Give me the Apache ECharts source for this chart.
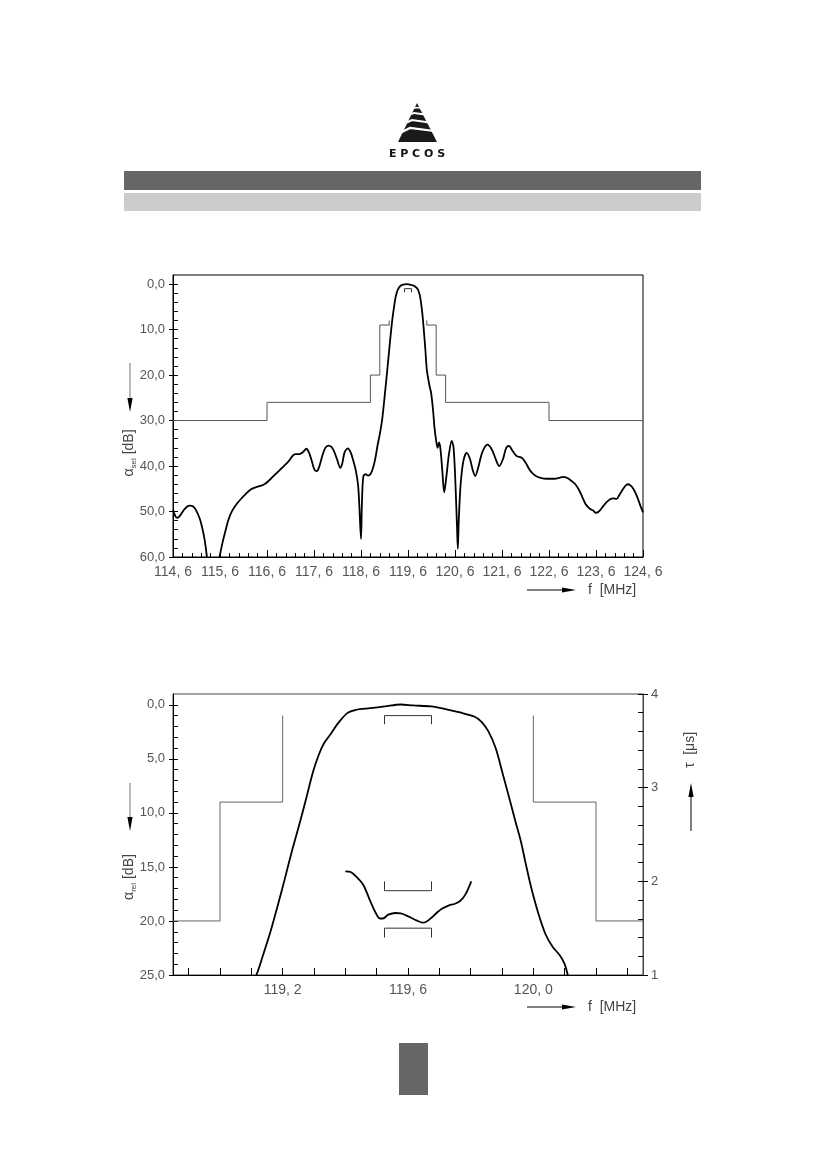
<!DOCTYPE html>
<html><head><meta charset="utf-8">
<script src="https://cdn.jsdelivr.net/npm/echarts@6/dist/echarts.min.js"></script>
<style>html,body{margin:0;padding:0;background:#fff}#c{width:826px;height:1169px}</style>
</head><body><div id="c"></div>
<script>
// ---------- Chart 1: selectivity (alpha_sel, dB) vs f (MHz) ----------
const selLabelsX = [114.6,115.6,116.6,117.6,118.6,119.6,120.6,121.6,122.6,123.6,124.6];
const selLabelsY = [0,10,20,30,40,50,60];
const selCurve = [[114.6,49.6],[114.65,51.0],[114.69,51.4],[114.75,50.9],[114.85,49.4],[114.95,48.7],[115.03,48.9],[115.1,49.9],[115.17,51.6],[115.22,53.5],[115.27,56.0],[115.31,59],[115.35,62.5],[115.42,65],[115.52,65],[115.56,62],[115.59,60],[115.65,57],[115.71,54.5],[115.78,51.8],[115.86,49.8],[115.95,48.4],[116.04,47.3],[116.15,46.1],[116.26,45.1],[116.38,44.6],[116.48,44.3],[116.56,43.9],[116.63,43.3],[116.72,42.4],[116.81,41.5],[116.9,40.6],[117.0,39.6],[117.07,38.8],[117.14,37.8],[117.2,37.4],[117.29,37.4],[117.36,37.0],[117.44,36.2],[117.5,37.2],[117.55,38.8],[117.61,40.8],[117.66,41.1],[117.71,40.2],[117.77,38.0],[117.84,36.0],[117.91,35.5],[117.97,35.8],[118.02,36.6],[118.09,38.5],[118.16,40.4],[118.2,39.5],[118.25,37.0],[118.32,36.1],[118.38,37.0],[118.43,38.6],[118.49,41.0],[118.54,44.4],[118.57,50],[118.6,56.0],[118.62,48],[118.65,42.3],[118.7,41.8],[118.75,42.1],[118.8,41.8],[118.85,40.6],[118.9,38.6],[118.95,35.6],[119.0,33.0],[119.05,29.8],[119.1,25],[119.16,18.8],[119.22,12.3],[119.27,7.5],[119.31,4.5],[119.34,2.7],[119.38,1.3],[119.42,0.6],[119.46,0.25],[119.5,0.1],[119.56,0.0],[119.62,0.05],[119.67,0.2],[119.73,0.4],[119.78,0.8],[119.82,1.4],[119.86,2.9],[119.9,6.0],[119.93,9.3],[119.97,14.5],[120.0,18.8],[120.04,21.4],[120.06,22.5],[120.09,23.8],[120.11,25.4],[120.14,28.5],[120.16,31.2],[120.2,34.5],[120.23,36.0],[120.26,34.8],[120.29,36.2],[120.33,41],[120.37,45.8],[120.42,42],[120.47,37.5],[120.53,34.5],[120.57,36],[120.61,44],[120.645,54],[120.66,58.2],[120.68,52],[120.72,44],[120.78,38.8],[120.85,37.1],[120.92,38.5],[120.98,41],[121.03,42.2],[121.09,40.5],[121.18,37],[121.29,35.3],[121.38,36.3],[121.46,38.3],[121.54,40.0],[121.62,38.5],[121.69,36.0],[121.75,35.6],[121.82,36.6],[121.91,37.8],[122.02,38.2],[122.1,39.2],[122.18,40.7],[122.24,41.5],[122.32,42.2],[122.39,42.5],[122.55,42.8],[122.72,42.8],[122.82,42.6],[122.9,42.4],[123.0,42.7],[123.08,43.3],[123.16,44.0],[123.23,45.1],[123.3,46.6],[123.38,48.4],[123.46,49.3],[123.54,49.8],[123.6,50.3],[123.66,50.0],[123.74,49.0],[123.82,48.0],[123.9,47.3],[123.96,47.1],[124.04,47.2],[124.1,46.3],[124.18,45.0],[124.24,44.2],[124.29,44.0],[124.35,44.4],[124.4,45.1],[124.47,46.6],[124.54,48.6],[124.6,50.2]];
const selMaskLeft = [[114.6,30],[116.6,30],[116.6,26],[118.8,26],[118.8,20],[119.0,20],[119.0,9],[119.2,9],[119.2,8]];
const selMaskRight = [[120.0,8],[120.0,9],[120.2,9],[120.2,20],[120.4,20],[120.4,26],[122.6,26],[122.6,30],[124.6,30]];
const selBracket = [[119.525,1.8],[119.525,1.0],[119.675,1.0],[119.675,1.8]];

// ---------- Chart 2: passband (alpha_rel, dB) and group delay (tau, us) ----------
const relLabelsX = [119.2,119.6,120.0];
const relLabelsY = [0,5,10,15,20,25];
const tauLabels = [1,2,3,4];
const relCurve = [[119.1,25.6],[119.116,25.0],[119.138,23.1],[119.16,21.1],[119.183,18.7],[119.206,16.2],[119.229,13.6],[119.252,11.2],[119.275,8.67],[119.297,6.19],[119.315,4.64],[119.332,3.56],[119.355,2.63],[119.377,1.70],[119.406,0.77],[119.434,0.46],[119.48,0.31],[119.526,0.15],[119.577,-0.03],[119.617,0.06],[119.674,0.15],[119.72,0.40],[119.766,0.71],[119.811,1.08],[119.834,1.55],[119.857,2.48],[119.88,4.02],[119.902,6.35],[119.925,8.82],[119.942,10.7],[119.96,12.6],[119.975,14.6],[119.994,17.0],[120.017,19.4],[120.04,21.3],[120.062,22.4],[120.085,23.2],[120.1,24.0],[120.11,25.0],[120.115,25.6]];
const relMaskLeft = [[118.85,20],[119.0,20],[119.0,9],[119.2,9],[119.2,1.0]];
const relMaskRight = [[120.0,1.0],[120.0,9],[120.2,9],[120.2,20],[120.35,20]];
const relBracket = [[119.525,1.8],[119.525,1.0],[119.675,1.0],[119.675,1.8]];
const tauCurve = [[119.4,2.107],[119.417,2.10],[119.434,2.053],[119.457,1.964],[119.48,1.786],[119.497,1.662],[119.509,1.605],[119.52,1.603],[119.537,1.644],[119.56,1.662],[119.577,1.658],[119.594,1.637],[119.611,1.609],[119.629,1.58],[119.646,1.559],[119.657,1.566],[119.674,1.609],[119.691,1.662],[119.708,1.708],[119.731,1.744],[119.748,1.758],[119.766,1.79],[119.783,1.858],[119.802,2.0]];
const tauBracketTop = [[119.525,2.0],[119.525,1.9],[119.675,1.9],[119.675,2.0]];
const tauBracketBottom = [[119.525,1.4],[119.525,1.5],[119.675,1.5],[119.675,1.4]];

function steps(a, b, s) { const r = []; for (let v = a; v <= b + 1e-9; v += s) r.push(Math.round(v * 1000) / 1000); return r; }
const FONT = 'Liberation Sans';
const LBL = '#555';
const comma = v => Number(v).toFixed(1).replace('.', ',');
const commaSp = v => Number(v).toFixed(1).replace('.', ', ');

function xAx(grid, min, max, ticks, len, labels, fmt, showLine) {
  return {
    type: 'value', gridIndex: grid, position: 'bottom', min: min, max: max,
    axisLine: { show: !!showLine, onZero: false, lineStyle: { color: '#000', width: 1 } },
    axisTick: { show: true, inside: true, length: len, customValues: ticks, lineStyle: { color: '#000' } },
    axisLabel: labels ? { show: true, customValues: labels, formatter: fmt, margin: 8, color: LBL, fontFamily: FONT, fontSize: 14 } : { show: false },
    splitLine: { show: false }
  };
}
function yAx(grid, pos, min, max, inverse, ticks, len, inside, labels, fmt, showLine, lineColor) {
  return {
    type: 'value', gridIndex: grid, position: pos, min: min, max: max, inverse: inverse,
    axisLine: { show: !!showLine, onZero: false, lineStyle: { color: lineColor || '#000', width: 1 } },
    axisTick: { show: true, inside: inside, length: len, customValues: ticks, lineStyle: { color: '#000' } },
    axisLabel: labels ? { show: true, customValues: labels, formatter: fmt, margin: 8, color: LBL, fontFamily: FONT, fontSize: 13 } : { show: false },
    splitLine: { show: false }
  };
}

function arrow(x1, y1, x2, y2, shaft) {
  const dx = x2 - x1, dy = y2 - y1, L = Math.sqrt(dx * dx + dy * dy);
  const ux = dx / L, uy = dy / L, hl = 14, hw = 2.6;
  const bx = x2 - ux * hl, by = y2 - uy * hl;
  return [
    { type: 'line', shape: { x1: x1, y1: y1, x2: bx, y2: by }, style: { stroke: shaft || '#000', lineWidth: 1 } },
    { type: 'polygon', shape: { points: [[x2, y2], [bx - uy * hw, by + ux * hw], [bx + uy * hw, by - ux * hw]] }, style: { fill: '#000' } }
  ];
}
function vtext(x, y, text, rich) {
  return { type: 'text', x: x, y: y, rotation: Math.PI / 2,
    style: { text: text, rich: rich, align: 'center', verticalAlign: 'middle', fill: '#444', fontFamily: FONT, fontSize: 14 } };
}
const richSub = { a: { fontSize: 14, fill: '#444', fontFamily: FONT, lineHeight: 18, verticalAlign: 'middle' },
                  s: { fontSize: 8, fill: '#444', fontFamily: FONT, lineHeight: 18, verticalAlign: 'bottom' },
                  b: { fontSize: 14, fill: '#444', fontFamily: FONT, lineHeight: 18, verticalAlign: 'middle' } };

// logo and page decoration
const logo = [
  { type: 'polygon', shape: { points: [[417, 103], [437, 142], [398, 142]] }, style: { fill: '#1a1a1a' } },
  { type: 'polyline', shape: { points: [[394, 136], [410, 128], [442, 132]] }, style: { stroke: '#fff', lineWidth: 2.2, fill: null } },
  { type: 'polyline', shape: { points: [[397, 127], [412, 120], [440, 124]] }, style: { stroke: '#fff', lineWidth: 2, fill: null } },
  { type: 'polyline', shape: { points: [[400, 119], [414, 113], [436, 116]] }, style: { stroke: '#fff', lineWidth: 1.8, fill: null } },
  { type: 'polyline', shape: { points: [[404, 112], [416, 107.5], [431, 109]] }, style: { stroke: '#fff', lineWidth: 1.5, fill: null } },
  { type: 'text', x: 417, y: 154, style: { text: 'E P C O S', align: 'center', verticalAlign: 'middle', fill: '#111', fontFamily: 'DejaVu Sans', fontWeight: 'bold', fontSize: 11 } },
  { type: 'rect', shape: { x: 124, y: 171, width: 577, height: 19 }, style: { fill: '#666' } },
  { type: 'rect', shape: { x: 124, y: 193, width: 577, height: 18 }, style: { fill: '#ccc' } },
  { type: 'rect', shape: { x: 399, y: 1043, width: 29, height: 52 }, style: { fill: '#666' } }
];

const graphics = [].concat(
  logo,
  arrow(130, 363, 130, 412, '#777'),
  [vtext(129, 453, '{a|α}{s|sel}{b| [dB]}', richSub)],
  arrow(527, 590, 576, 590),
  [{ type: 'text', x: 588, y: 590, style: { text: 'f  [MHz]', verticalAlign: 'middle', fill: '#444', fontFamily: FONT, fontSize: 14 } }],
  arrow(130, 783, 130, 831, '#777'),
  [vtext(129, 877, '{a|α}{s|rel}{b| [dB]}', richSub)],
  arrow(691, 831, 691, 783),
  [vtext(690, 750, 'τ  [μs]')],
  arrow(527, 1007, 576, 1007),
  [{ type: 'text', x: 588, y: 1007, style: { text: 'f  [MHz]', verticalAlign: 'middle', fill: '#444', fontFamily: FONT, fontSize: 14 } }]
);

function line(data, x, y, color, width, smooth, z) {
  return { type: 'line', xAxisIndex: x, yAxisIndex: y, data: data, symbol: 'none', smooth: smooth || false,
    lineStyle: { color: color, width: width }, z: z || 2, clip: true, silent: true };
}

const option = {
  animation: false,
  backgroundColor: '#fff',
  grid: [
    { left: 173, top: 275, width: 470, height: 282, show: true, borderColor: '#000', borderWidth: 1, backgroundColor: 'transparent' },
    { left: 173, top: 694, width: 470, height: 281, show: true, borderColor: '#444', borderWidth: 1, backgroundColor: 'transparent' }
  ],
  xAxis: [
    xAx(0, 114.6, 124.6, steps(114.6, 124.6, 0.2), 4, selLabelsX, commaSp, true),
    xAx(0, 114.6, 124.6, selLabelsX, 7, null, null, false),
    xAx(1, 118.85, 120.35, steps(118.9, 120.3, 0.1), 7, relLabelsX, commaSp, true)
  ],
  yAxis: [
    yAx(0, 'left', -2, 60, true, steps(0, 60, 2), 5, true, selLabelsY, comma, true),
    yAx(0, 'left', -2, 60, true, selLabelsY, 4, false, null, null, false),
    yAx(1, 'left', -1, 25, true, steps(0, 25, 1), 5, true, relLabelsY, comma, true),
    yAx(1, 'left', -1, 25, true, relLabelsY, 4, false, null, null, false),
    yAx(1, 'right', 1, 4, false, steps(1, 4, 0.2), 5, true, tauLabels, v => String(v), true, '#444'),
    yAx(1, 'right', 1, 4, false, tauLabels, 5, false, null, null, false)
  ],
  series: [
    line(selMaskLeft, 0, 0, '#555', 1),
    line(selMaskRight, 0, 0, '#555', 1),
    line(selBracket, 0, 0, '#333', 1),
    line(selCurve, 0, 0, '#000', 1.8, 0.3, 3),
    line(relMaskLeft, 2, 2, '#666', 1),
    line(relMaskRight, 2, 2, '#666', 1),
    line(relBracket, 2, 2, '#333', 1),
    line(relCurve, 2, 2, '#000', 1.8, 0.3, 3),
    line(tauBracketTop, 2, 4, '#333', 1),
    line(tauBracketBottom, 2, 4, '#333', 1),
    line(tauCurve, 2, 4, '#000', 1.8, 0.3, 3)
  ],
  graphic: graphics
};
const chart = echarts.init(document.getElementById('c'), null, { renderer: 'canvas' });
chart.setOption(option);
</script>
</body></html>
